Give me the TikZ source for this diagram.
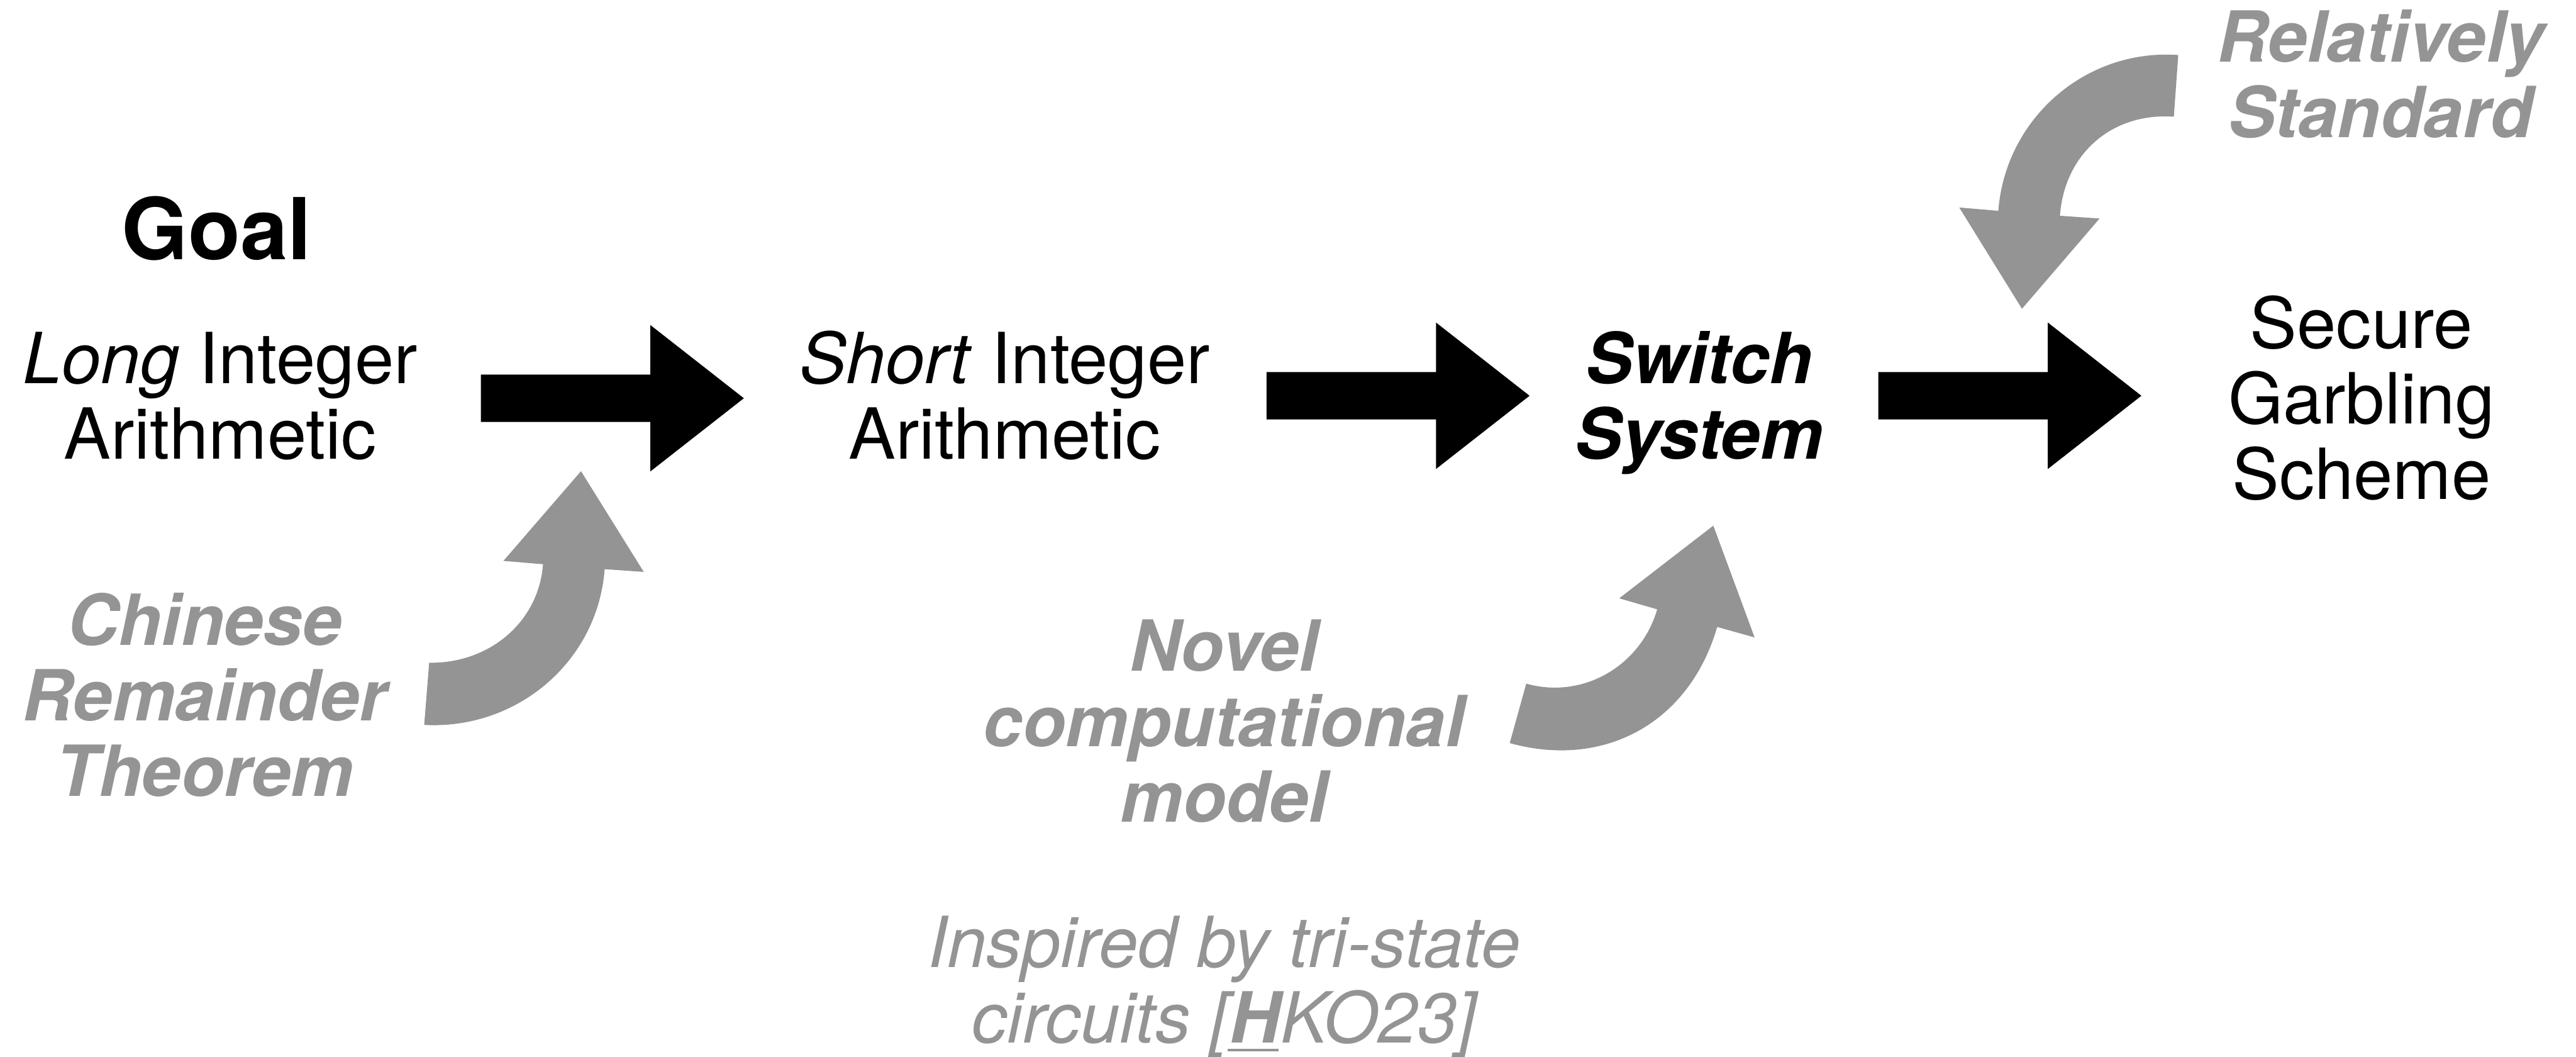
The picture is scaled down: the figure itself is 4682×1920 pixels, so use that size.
\documentclass[tikz,border=0pt]{standalone}
\usepackage{fontspec}
\setmainfont{TeX Gyre Heros}
\definecolor{softgray}{RGB}{148,148,148}
\tikzset{
  txt/.style={inner sep=0pt, anchor=base, font=\fontsize{36.42}{38.98}\selectfont},
  graytxt/.style={txt, text=softgray},
  curvearrow/.style={fill=softgray, draw=none},
  blockarrow/.pic={\fill[black] (0,-43) -- (308,-43) -- (308,-133) -- (478,0) -- (308,133) -- (308,43) -- (0,43) -- cycle;}
}
\newcommand{\lines}[1]{\begin{tabular}[t]{@{}c@{}}#1\end{tabular}}
\newcommand{\thickuline}[1]{{\setbox0\hbox{#1}\rlap{\kern-1pt\rule[-4.6pt]{\wd0}{1.5pt}}\box0}}
\begin{document}
\begin{tikzpicture}[x=0.01cm, y=-0.01cm]
\useasboundingbox (0,0) rectangle (4682,1920);
\fill[white] (0,0) rectangle (4682,1920);

% main texts
\node[txt, font=\fontsize{44.1}{48}\selectfont\bfseries] (goal) at (394,472) {Goal};
\node[txt] (long) at (400,697) {\lines{\textit{Long} Integer\\Arithmetic}};
\node[txt] (short) at (1826,697) {\lines{\textit{Short} Integer\\Arithmetic}};
\node[txt, font=\fontsize{36.42}{38.98}\selectfont\bfseries\itshape] (switch) at (3088,697) {\lines{Switch\\System}};
\node[txt] (secure) at (4292,633) {\lines{Secure\\Garbling\\Scheme}};

% gray annotations
\node[graytxt, font=\fontsize{36.42}{38.98}\selectfont\bfseries\itshape] (rel) at (4327,113) {\lines{Relatively\\Standard}};
\node[graytxt, font=\fontsize{36.42}{38.98}\selectfont\bfseries\itshape] (crt) at (372,1172) {\lines{Chinese\\Remainder\\Theorem}};
\node[graytxt, font=\fontsize{36.42}{38.98}\selectfont\bfseries\itshape] (novel) at (2225,1219) {\lines{Novel\\computational\\model}};
\node[graytxt, font=\fontsize{36.42}{38.98}\selectfont\itshape] (insp) at (2225,1757) {\lines{Inspired by tri-state\\circuits [\thickuline{\textbf{H}}KO23]}};

% black block arrows
\coordinate (a1) at (874,723.5);
\coordinate (a2) at (2302,719);
\coordinate (a3) at (3414,719);
\pic (arrowA) at (a1) {blockarrow};
\pic (arrowB) at (a2) {blockarrow};
\pic (arrowC) at (a3) {blockarrow};

% gray curved arrows
\fill[curvearrow] (780,1204) .. controls (887,1206) and (979,1132) .. (987,1025)
  -- (915,1019) -- (1056,856) -- (1170,1039) -- (1099,1034)
  .. controls (1086,1203) and (939,1326) .. (771,1317) -- cycle;

\fill[curvearrow] (2774,1242) .. controls (2877,1271) and (2982,1210) .. (3012,1107)
  -- (2943,1087) -- (3114,955) -- (3189,1158) -- (3121,1139)
  .. controls (3071,1312) and (2917,1398) .. (2744,1350) -- cycle;

\fill[curvearrow] (3959,100) .. controls (3791,88) and (3645,215) .. (3632,383)
  -- (3561,377) -- (3675,561) -- (3816,397) -- (3744,392)
  .. controls (3752,280) and (3838,204) .. (3951,212) -- cycle;
\end{tikzpicture}
\end{document}
